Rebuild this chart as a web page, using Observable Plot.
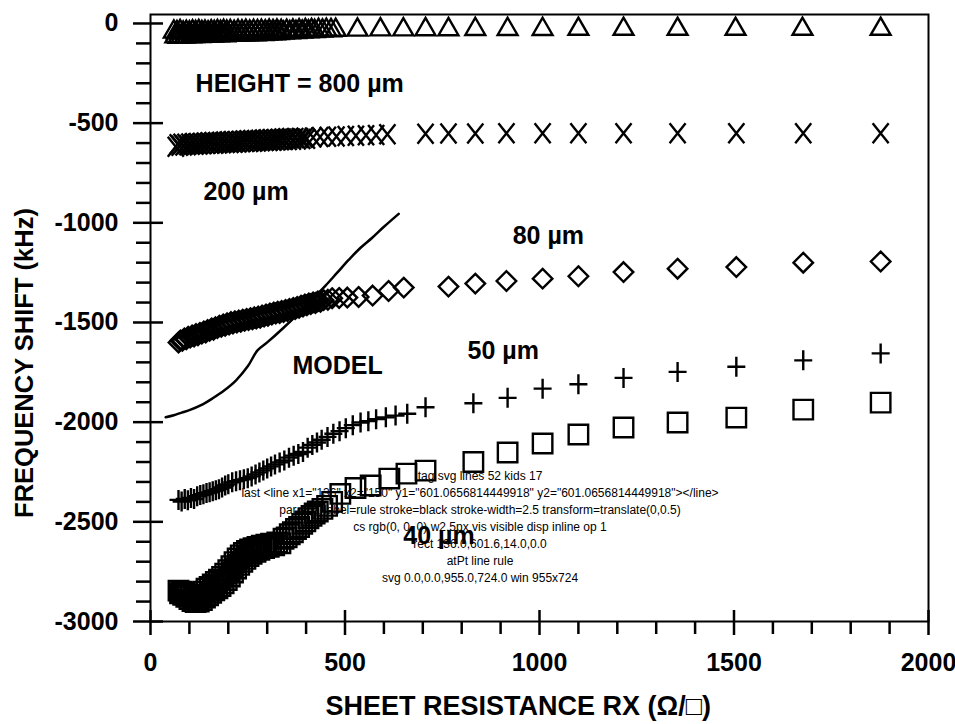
<!DOCTYPE html>
<html>
<head>
<meta charset="utf-8">
<script src="https://cdn.jsdelivr.net/npm/d3@7"></script>
<script src="https://cdn.jsdelivr.net/npm/@observablehq/plot@0.6"></script>
<style>
  body { margin: 0; background: #fff; }
</style>
</head>
<body>
<div id="chart"></div>
<script>
const xMajor = [0, 500, 1000, 1500, 2000];
const xMinor = [100, 200, 300, 400, 600, 700, 800, 900, 1100, 1200, 1300, 1400, 1600, 1700, 1800, 1900];
const yMajor = [0, -500, -1000, -1500, -2000, -2500, -3000];
const yMinor = [-100, -200, -300, -400, -600, -700, -800, -900, -1100, -1200, -1300, -1400,
  -1600, -1700, -1800, -1900, -2100, -2200, -2300, -2400, -2600, -2700, -2800, -2900];

const h800X = [60, 64, 68, 72, 76, 80, 84, 88, 92, 96, 100, 104, 108, 112, 116, 120, 124, 128, 132, 136,
  140, 144, 148, 152, 156, 160, 164, 168, 172, 176, 180, 184, 188, 192, 196, 200, 205, 210, 215, 220,
  225, 230, 235, 240, 245, 250, 255, 260, 265, 270, 275, 280, 285, 290, 295, 300, 305, 310, 315, 320,
  325, 330, 336, 342, 350, 358, 366, 374, 382, 390, 398, 406, 414, 422, 432, 442, 452, 464, 476, 532,
  591, 650, 707, 766, 835, 918, 1008, 1100, 1216, 1355, 1504, 1676, 1877];
const h800Y = [-42, -66, -45, -68, -40, -64, -47, -67, -43, -63, -46, -66, -41, -65, -44, -62, -40, -64, -45, -61,
  -42, -63, -46, -60, -41, -62, -44, -59, -40, -61, -43, -58, -39, -60, -42, -57, -40, -58, -43, -56,
  -39, -57, -41, -55, -38, -56, -42, -54, -39, -55, -40, -53, -38, -54, -41, -52, -37, -51, -40, -50,
  -37, -49, -39, -47, -38, -45, -37, -44, -36, -42, -35, -41, -35, -39, -34, -37, -33, -35, -33, -32,
  -31, -31, -30, -30, -29, -29, -29, -28, -28, -28, -28, -28, -28];

const h200X = [65, 70, 75, 80, 85, 90, 95, 100, 105, 110, 115, 120, 125, 130, 135, 140, 145, 150, 155, 160,
  165, 170, 175, 180, 185, 190, 195, 200, 205, 210, 215, 220, 225, 230, 235, 240, 245, 250, 255, 260,
  265, 270, 275, 280, 285, 290, 295, 300, 305, 310, 315, 320, 325, 330, 335, 340, 345, 350, 355, 360,
  366, 372, 378, 384, 390, 396, 402, 418, 436, 456, 478, 502, 528, 554, 580, 609, 707, 766, 835, 915,
  1008, 1100, 1216, 1355, 1506, 1678, 1877];
const h200Y = [-618, -606, -614, -604, -612, -603, -611, -602, -609, -600, -608, -599, -607, -598, -606, -597, -605, -596, -604, -595,
  -603, -594, -602, -593, -601, -592, -600, -591, -599, -590, -598, -589, -597, -588, -596, -587, -595, -586, -594, -585,
  -593, -584, -592, -583, -591, -582, -590, -581, -589, -580, -588, -579, -587, -578, -586, -577, -585, -576, -584, -575,
  -583, -575, -582, -574, -580, -573, -578, -572, -570, -568, -567, -565, -563, -561, -559, -556, -553, -552, -552, -551,
  -551, -551, -551, -551, -551, -551, -551];

const h80X = [72, 77, 82, 87, 92, 97, 102, 107, 112, 117, 122, 127, 132, 137, 142, 147, 152, 157, 162, 167,
  172, 177, 182, 187, 192, 197, 202, 207, 212, 217, 222, 227, 232, 237, 242, 247, 252, 257, 262, 267,
  272, 277, 282, 287, 292, 297, 302, 307, 312, 317, 322, 327, 332, 337, 342, 347, 352, 357, 362, 367,
  372, 377, 382, 387, 392, 397, 402, 407, 412, 418, 424, 430, 437, 445, 456, 467, 485, 506, 535, 571,
  612, 651, 766, 835, 915, 1008, 1100, 1216, 1355, 1506, 1678, 1877];
const h80Y = [-1600, -1590, -1592, -1580, -1584, -1572, -1576, -1565, -1570, -1558, -1564, -1552, -1556, -1545, -1550, -1538, -1542, -1530, -1536, -1524,
  -1528, -1516, -1522, -1510, -1516, -1504, -1510, -1498, -1505, -1494, -1500, -1490, -1496, -1486, -1492, -1482, -1488, -1478, -1484, -1474,
  -1480, -1470, -1476, -1465, -1470, -1460, -1466, -1455, -1460, -1450, -1455, -1446, -1452, -1442, -1447, -1437, -1442, -1432, -1437, -1427,
  -1432, -1422, -1426, -1416, -1420, -1410, -1414, -1404, -1408, -1399, -1402, -1394, -1396, -1388, -1386, -1378, -1377, -1375, -1372, -1365,
  -1342, -1325, -1320, -1305, -1292, -1280, -1268, -1247, -1230, -1222, -1200, -1194];

const h50X = [72, 80, 88, 96, 104, 112, 120, 128, 136, 144, 152, 160, 168, 176, 184, 192,
  200, 210, 220, 230, 240, 250, 260, 270, 280, 290, 300, 310, 320, 332, 344, 356,
  368, 380, 392, 404, 416, 428, 440, 455, 470, 486, 502, 520, 540, 560, 580, 605,
  630, 660, 707, 830, 918, 1008, 1100, 1216, 1355, 1506, 1678, 1877];
const h50Y = [-2390, -2398, -2385, -2392, -2380, -2386, -2372, -2366, -2362, -2356, -2352, -2346, -2342, -2336, -2328, -2318,
  -2312, -2302, -2296, -2291, -2287, -2281, -2272, -2262, -2252, -2242, -2232, -2222, -2212, -2202, -2192, -2178,
  -2168, -2160, -2150, -2128, -2114, -2102, -2088, -2074, -2058, -2045, -2030, -2015, -2002, -1995, -1985, -1976,
  -1967, -1958, -1925, -1905, -1878, -1832, -1810, -1778, -1748, -1722, -1690, -1655];

const h40X = [72, 76, 80, 84, 88, 92, 96, 100, 104, 108, 112, 116, 120, 124, 128, 132, 136, 140, 144, 148,
  152, 156, 160, 164, 168, 172, 176, 180, 184, 188, 192, 196, 200, 204, 208, 212, 216, 220, 224, 228,
  232, 236, 240, 244, 248, 252, 256, 260, 265, 270, 275, 280, 286, 292, 298, 304, 310, 318, 326, 334,
  342, 350, 358, 366, 374, 382, 390, 398, 406, 414, 422, 430, 442, 454, 467, 488, 527, 566, 614, 658,
  707, 830, 918, 1008, 1100, 1216, 1355, 1506, 1678, 1877];
const h40Y = [-2845, -2858, -2850, -2866, -2856, -2876, -2864, -2888, -2872, -2898, -2880, -2902, -2884, -2900, -2868, -2892, -2850, -2880, -2836, -2868,
  -2826, -2856, -2814, -2844, -2802, -2834, -2790, -2822, -2776, -2808, -2760, -2792, -2742, -2774, -2722, -2754, -2702, -2734, -2684, -2716,
  -2668, -2700, -2656, -2686, -2646, -2672, -2638, -2660, -2632, -2650, -2626, -2640, -2620, -2632, -2615, -2625, -2610, -2618, -2603, -2608,
  -2585, -2578, -2562, -2552, -2536, -2526, -2510, -2498, -2482, -2470, -2458, -2448, -2435, -2420, -2400, -2360, -2330, -2318, -2283, -2258,
  -2243, -2200, -2152, -2107, -2062, -2027, -2002, -1977, -1937, -1902];

const modelX = [39, 60, 80, 100, 130, 160, 190, 220, 250, 275, 300, 340, 380, 420, 450, 480, 510, 540, 570, 600, 638];
const modelY = [-1975, -1965, -1952, -1940, -1915, -1880, -1840, -1790, -1720, -1640, -1600, -1530, -1455, -1375, -1315, -1250, -1185, -1125, -1075, -1020, -955];

const noteText = ["HEIGHT = 800 µm", "200 µm", "80 µm", "MODEL", "50 µm", "40 µm"];
const noteX = [116, 136, 931, 365, 815, 650];
const noteY = [-345, -888, -1104, -1756, -1681, -2609];

const xLabel = "SHEET RESISTANCE RX (Ω/□)";
const yLabel = "FREQUENCY SHIFT (kHz)";

const rows = (xs, ys) => xs.map((x, i) => ({x, y: ys[i]}));
const notes = noteText.map((t, i) => ({t, x: noteX[i], y: noteY[i]}));

const plusSymbol = {draw(ctx, size) { const r = Math.sqrt(size / Math.PI);
  ctx.moveTo(-0.9 * r, 0); ctx.lineTo(0.9 * r, 0); ctx.moveTo(0, -r); ctx.lineTo(0, r); }};
const timesSymbol = {draw(ctx, size) { const r = Math.sqrt(size / Math.PI), w = 0.8 * r;
  ctx.moveTo(-w, -r); ctx.lineTo(w, r); ctx.moveTo(w, -r); ctx.lineTo(-w, r); }};

const W = 955, H = 724, ML = 150, MR = 27, MT = 14, MB = 103;
const frameW = W - ML - MR, frameH = H - MT - MB;
const dotStyle = {x: "x", y: "y", stroke: "black", fill: "none", strokeWidth: 2.4};
const tickStyle = {stroke: "black", strokeWidth: 2.5};

const chart = Plot.plot({
  width: W, height: H, marginLeft: ML, marginRight: MR, marginTop: MT, marginBottom: MB,
  x: {domain: [0, 2000]}, y: {domain: [-3000, 45]},
  style: {fontFamily: "Liberation Sans", fontSize: "25px", fontWeight: "bold", background: "white", color: "black"},
  marks: [
    Plot.line(rows(modelX, modelY), {x: "x", y: "y", curve: "catmull-rom", stroke: "black", strokeWidth: 2.5}),
    Plot.dot(rows(h800X, h800Y), {...dotStyle, symbol: "triangle2", r: 9.5}),
    Plot.dot(rows(h200X, h200Y), {...dotStyle, symbol: timesSymbol, r: 10}),
    Plot.dot(rows(h80X, h80Y), {...dotStyle, symbol: "diamond2", r: 8.8}),
    Plot.dot(rows(h50X, h50Y), {...dotStyle, symbol: plusSymbol, r: 10}),
    Plot.dot(rows(h40X, h40Y), {...dotStyle, symbol: "square2", r: 12.4}),
    Plot.text(notes, {x: "x", y: "y", text: "t", textAnchor: "start", lineAnchor: "bottom", fontSize: 25, fill: "black"}),
    Plot.text([xLabel], {text: d => d, frameAnchor: "bottom-left", dx: 175, dy: 93, textAnchor: "start", lineAnchor: "bottom", fontSize: 27, fill: "black"}),
    Plot.text([yLabel], {text: d => d, frameAnchor: "left", rotate: -90, dx: -118, dy: 45, textAnchor: "middle", lineAnchor: "bottom", fontSize: 25.5, fill: "black"}),
    Plot.axisX({ticks: xMajor, tickSize: 0, tickPadding: 32, tickFormat: d => String(d), label: null, fill: "black"}),
    Plot.axisY({ticks: yMajor, tickSize: 0, tickPadding: 32, tickFormat: d => String(d), label: null, fill: "black"}),
    Plot.frame({stroke: "black", strokeWidth: 2}),
    Plot.ruleX(xMajor, {x: d => d, insetTop: frameH - 11, insetBottom: -14, ...tickStyle}),
    Plot.ruleX(xMinor, {x: d => d, insetTop: frameH, insetBottom: -13, ...tickStyle}),
    Plot.ruleY(yMajor, {y: d => d, insetLeft: -17, insetRight: frameW - 13, ...tickStyle}),
    Plot.ruleY(yMinor, {y: d => d, insetLeft: -14, insetRight: frameW, ...tickStyle})
  ]
});
document.getElementById("chart").append(chart);

const svgEl = chart.tagName.toLowerCase() === "svg" ? chart : chart.querySelector("svg");

// ---- diagnostics ----
const lines = svgEl.querySelectorAll("line");
const info = [];
info.push("tag " + chart.tagName + " lines " + lines.length + " kids " + svgEl.children.length);
if (lines.length) {
  const l = lines[lines.length - 1];
  const cs = getComputedStyle(l);
  info.push("last " + l.outerHTML.slice(0, 80));
  info.push("par " + Array.from(l.parentNode.attributes).map(a => a.name + "=" + a.value).join(" ").slice(0, 90));
  info.push("cs " + cs.stroke + " w" + cs.strokeWidth + " vis " + cs.visibility + " disp " + cs.display + " op " + cs.opacity);
  const r = l.getBoundingClientRect();
  info.push("rect " + [r.x, r.y, r.width, r.height].map(v => v.toFixed(1)).join(","));
}
const el = document.elementFromPoint(143, 43);
info.push("atPt " + (el ? el.tagName + " " + (el.parentNode && el.parentNode.getAttribute ? el.parentNode.getAttribute("aria-label") : "") : "null"));
const sr = svgEl.getBoundingClientRect();
info.push("svg " + [sr.x, sr.y, sr.width, sr.height].map(v => v.toFixed(1)).join(",") + " win " + innerWidth + "x" + innerHeight);
const g = d3.select(svgEl).append("g").attr("font-size", 12).attr("font-weight", "normal");
info.forEach((s, i) => g.append("text").attr("x", 480).attr("y", 480 + i * 17).text(s));
</script>
</body>
</html>
